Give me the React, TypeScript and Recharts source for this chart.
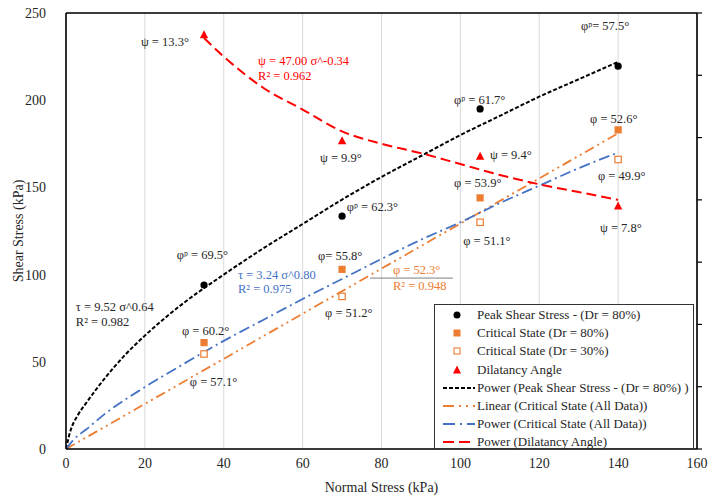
import React from "react";
import {
  ComposedChart, Scatter, Line, XAxis, YAxis, CartesianGrid, Legend, ReferenceDot, ReferenceLine,
} from "recharts";

// ---------- data ----------
const xTicks = [0, 20, 40, 60, 80, 100, 120, 140, 160];
const yTicks = [0, 50, 100, 150, 200, 250];
const psiTicks = [0, 2, 4, 6, 8, 10, 12, 14];

const peakPoints = [
  { x: 35, y: 94 },
  { x: 70, y: 133.5 },
  { x: 105, y: 195 },
  { x: 140, y: 219.5 },
];
const crit80Points = [
  { x: 35, y: 61 },
  { x: 70, y: 103 },
  { x: 105, y: 144 },
  { x: 140, y: 183 },
];
const crit30Points = [
  { x: 35, y: 54.5 },
  { x: 70, y: 87.5 },
  { x: 105, y: 130 },
  { x: 140, y: 166 },
];
const dilatancyPoints = [
  { x: 35, psi: 13.3 },
  { x: 70, psi: 9.9 },
  { x: 105, psi: 9.4 },
  { x: 140, psi: 7.8 },
];

// trend lines
const peakTrend = [
  { x: 0, y: 0 }, { x: 1, y: 9.5 }, { x: 3, y: 19.4 }, { x: 5, y: 26 }, { x: 10, y: 41 },
  { x: 15, y: 54 }, { x: 20, y: 65 }, { x: 30, y: 84 }, { x: 40, y: 100 }, { x: 50, y: 115 },
  { x: 60, y: 129 }, { x: 70, y: 143 }, { x: 80, y: 156 }, { x: 90, y: 168 }, { x: 100, y: 180 },
  { x: 110, y: 191 }, { x: 120, y: 202 }, { x: 130, y: 212 }, { x: 140, y: 222 },
];
const linearTrend = [
  { x: 0, y: 0 },
  { x: 140, y: 181 },
];
const critPowerTrend = [
  { x: 0, y: 0 }, { x: 2, y: 5.6 }, { x: 5, y: 11 }, { x: 10, y: 20.4 }, { x: 20, y: 35.5 },
  { x: 30, y: 49 }, { x: 40, y: 62 }, { x: 50, y: 74 }, { x: 60, y: 86 }, { x: 70, y: 97.5 },
  { x: 80, y: 109 }, { x: 90, y: 120 }, { x: 100, y: 130 }, { x: 110, y: 141 }, { x: 120, y: 151 },
  { x: 130, y: 161 }, { x: 140, y: 170 },
];
const dilatancyTrend = [
  { x: 35, psi: 13.2 }, { x: 40, psi: 12.6 }, { x: 50, psi: 11.6 }, { x: 60, psi: 10.9 },
  { x: 70, psi: 10.2 }, { x: 80, psi: 9.8 }, { x: 90, psi: 9.5 }, { x: 100, psi: 9.15 },
  { x: 110, psi: 8.8 }, { x: 120, psi: 8.5 }, { x: 130, psi: 8.25 }, { x: 140, psi: 8.0 },
];

// annotation texts (anchor in data units, left axis)
const blackNotes = [
  { x: 19.0, y: 233.4, t: "ψ = 13.3°" },
  { x: 130.6, y: 242.5, t: "φᵖ= 57.5°" },
  { x: 98.4, y: 200.1, t: "φᵖ = 61.7°" },
  { x: 132.9, y: 189.2, t: "φ = 52.6°" },
  { x: 64.4, y: 166.9, t: "ψ = 9.9°" },
  { x: 107.5, y: 168.6, t: "ψ = 9.4°" },
  { x: 98.4, y: 152.5, t: "φ = 53.9°" },
  { x: 134.9, y: 156.5, t: "φ = 49.9°" },
  { x: 71.2, y: 138.8, t: "φᵖ = 62.3°" },
  { x: 100.7, y: 119.3, t: "φ = 51.1°" },
  { x: 135.4, y: 126.7, t: "ψ = 7.8°" },
  { x: 28.1, y: 111.2, t: "φᵖ = 69.5°" },
  { x: 63.9, y: 110.7, t: "φ= 55.8°" },
  { x: 65.7, y: 78.0, t: "φ = 51.2°" },
  { x: 2.5, y: 81.4, t: "τ = 9.52 σ^0.64" },
  { x: 2.5, y: 72.8, t: "R² = 0.982" },
  { x: 29.4, y: 67.7, t: "φ = 60.2°" },
  { x: 31.4, y: 38.4, t: "φ = 57.1°" },
];
const redNotes = [
  { x: 48.7, y: 222.5, t: "ψ = 47.00 σ^-0.34" },
  { x: 48.7, y: 213.9, t: "R² = 0.962" },
];
const blueNotes = [
  { x: 43.6, y: 99.8, t: "τ = 3.24 σ^0.80" },
  { x: 43.6, y: 91.7, t: "R² = 0.975" },
];
const orangeNotes = [
  { x: 82.9, y: 102.6, t: "φ = 52.3°" },
  { x: 82.9, y: 93.5, t: "R² = 0.948" },
];

const legendItems = [
  "Peak Shear Stress - (Dr = 80%)",
  "Critical State (Dr = 80%)",
  "Critical State (Dr = 30%)",
  "Dilatancy Angle",
  "Power (Peak Shear Stress - (Dr = 80%) )",
  "Linear (Critical State (All Data))",
  "Power (Critical State (All Data))",
  "Power (Dilatancy Angle)",
];

// ---------- styles ----------
const FONT = "'Liberation Serif', 'Times New Roman', serif";
const ORANGE = "#ed7d31";
const BLUE = "#4472c4";
const RED = "#ff0000";
const TEXT = "#262626";

const noteShape = (text: string, color: string) => (p: any) => (
  <text x={p.cx} y={p.cy} fill={color} fontFamily={FONT} fontSize={12.5} dominantBaseline="central">
    {text}
  </text>
);

const Circle = (p: any) => <circle cx={p.cx} cy={p.cy} r={3.6} fill="#000" />;
const FilledSquare = (p: any) => <rect x={p.cx - 3.6} y={p.cy - 3.6} width={7.2} height={7.2} fill={ORANGE} />;
const HollowSquare = (p: any) => (
  <rect x={p.cx - 3.2} y={p.cy - 3.2} width={6.4} height={6.4} fill="#fff" stroke={ORANGE} strokeWidth={1.2} />
);
const Triangle = (p: any) => (
  <polygon points={`${p.cx},${p.cy - 4.5} ${p.cx + 4.2},${p.cy + 3.5} ${p.cx - 4.2},${p.cy + 3.5}`} fill={RED} />
);

const renderLegend = () => (
  <div
    style={{
      width: 260, height: 145, boxSizing: "border-box", border: "1px solid #333", background: "#fff",
      fontFamily: FONT, fontSize: 13, color: TEXT, paddingTop: 1,
    }}
  >
    {legendItems.map((label, i) => (
      <div key={label} style={{ display: "flex", alignItems: "center", height: 18.2, whiteSpace: "nowrap" }}>
        <svg width={41} height={18} style={{ flex: "none" }}>
          {i === 0 && <circle cx={22} cy={9} r={3.5} fill="#000" />}
          {i === 1 && <rect x={18.5} y={5.5} width={7} height={7} fill={ORANGE} />}
          {i === 2 && <rect x={19} y={6} width={6} height={6} fill="#fff" stroke={ORANGE} strokeWidth={1.1} />}
          {i === 3 && <polygon points="22,4.5 26,12.5 18,12.5" fill={RED} />}
          {i === 4 && <line x1={8} y1={9} x2={40} y2={9} stroke="#000" strokeWidth={2} strokeDasharray="4 2" />}
          {i === 5 && <line x1={8} y1={9} x2={40} y2={9} stroke={ORANGE} strokeWidth={2} strokeDasharray="11 5 2 5 2 5" />}
          {i === 6 && <line x1={8} y1={9} x2={40} y2={9} stroke={BLUE} strokeWidth={2} strokeDasharray="12 5 2 5" />}
          {i === 7 && <line x1={8} y1={9} x2={40} y2={9} stroke={RED} strokeWidth={2} strokeDasharray="11 5" />}
        </svg>
        <span style={{ marginLeft: 1 }}>{label}</span>
      </div>
    ))}
  </div>
);

export default function App() {
  return (
    <div style={{ position: "absolute", left: 0, top: 0, width: 712, height: 497, background: "#fff" }}>
      <ComposedChart width={712} height={497} margin={{ top: 13, right: 0, bottom: 0, left: 0 }}>
        <CartesianGrid stroke="#d9d9d9" strokeWidth={1} />
        <XAxis
          type="number"
          dataKey="x"
          domain={[0, 160]}
          ticks={xTicks}
          interval={0}
          allowDataOverflow
          height={48}
          tickLine={false}
          tickSize={0}
          tickMargin={9}
          axisLine={{ stroke: "#000", strokeWidth: 1.6 }}
          tick={{ fontFamily: FONT, fontSize: 14, fill: TEXT }}
          label={(props: any) => {
            const vb = props.viewBox;
            return (
              <text x={vb.x + vb.width / 2} y={vb.y + 38} textAnchor="middle" dominantBaseline="central"
                fontFamily={FONT} fontSize={14} fill={TEXT}>
                Normal Stress (kPa)
              </text>
            );
          }}
        />
        <YAxis
          yAxisId="left"
          type="number"
          domain={[0, 250]}
          ticks={yTicks}
          interval={0}
          width={66}
          tickLine={false}
          tickSize={0}
          tickMargin={20}
          axisLine={{ stroke: "#000", strokeWidth: 1.6 }}
          tick={{ fontFamily: FONT, fontSize: 14, fill: TEXT }}
          label={(props: any) => {
            const vb = props.viewBox;
            const cy = vb.y + vb.height / 2;
            return (
              <text x={18} y={cy} transform={`rotate(-90 18 ${cy})`} textAnchor="middle" dominantBaseline="central"
                fontFamily={FONT} fontSize={14} fill={TEXT}>
                Shear Stress (kPa)
              </text>
            );
          }}
        />
        <YAxis
          yAxisId="right"
          orientation="right"
          type="number"
          domain={[0, 14]}
          ticks={psiTicks}
          interval={0}
          width={15}
          tickSize={5}
          tickLine={{ stroke: "#000", strokeWidth: 1.2 }}
          axisLine={{ stroke: "#000", strokeWidth: 1.6 }}
          tickFormatter={() => ""}
        />
        <ReferenceLine yAxisId="left" y={250} stroke="#000" strokeWidth={1.6} />
        <ReferenceLine
          yAxisId="left"
          segment={[{ x: 77.1, y: 98.0 }, { x: 98.1, y: 98.0 }]}
          stroke="#7f7f7f"
          strokeWidth={1}
        />

        <Line yAxisId="left" data={peakTrend} dataKey="y" type="monotone" stroke="#000" strokeWidth={2}
          strokeDasharray="4 2" dot={false} activeDot={false} isAnimationActive={false} legendType="none" />
        <Line yAxisId="left" data={linearTrend} dataKey="y" type="linear" stroke={ORANGE} strokeWidth={1.8}
          strokeDasharray="10 4 2 4 2 4" dot={false} activeDot={false} isAnimationActive={false} legendType="none" />
        <Line yAxisId="left" data={critPowerTrend} dataKey="y" type="monotone" stroke={BLUE} strokeWidth={1.8}
          strokeDasharray="11 4 2 4" dot={false} activeDot={false} isAnimationActive={false} legendType="none" />
        <Line yAxisId="right" data={dilatancyTrend} dataKey="psi" type="monotone" stroke={RED} strokeWidth={2}
          strokeDasharray="10 5" dot={false} activeDot={false} isAnimationActive={false} legendType="none" />

        <Scatter yAxisId="left" data={peakPoints} dataKey="y" shape={Circle} isAnimationActive={false} />
        <Scatter yAxisId="left" data={crit80Points} dataKey="y" shape={FilledSquare} isAnimationActive={false} />
        <Scatter yAxisId="left" data={crit30Points} dataKey="y" shape={HollowSquare} isAnimationActive={false} />
        <Scatter yAxisId="right" data={dilatancyPoints} dataKey="psi" shape={Triangle} isAnimationActive={false} />

        {blackNotes.map((n) => (
          <ReferenceDot key={n.t} yAxisId="left" x={n.x} y={n.y} r={0} ifOverflow="visible" shape={noteShape(n.t, TEXT)} />
        ))}
        {redNotes.map((n) => (
          <ReferenceDot key={n.t} yAxisId="left" x={n.x} y={n.y} r={0} ifOverflow="visible" shape={noteShape(n.t, RED)} />
        ))}
        {blueNotes.map((n) => (
          <ReferenceDot key={n.t} yAxisId="left" x={n.x} y={n.y} r={0} ifOverflow="visible" shape={noteShape(n.t, BLUE)} />
        ))}
        {orangeNotes.map((n) => (
          <ReferenceDot key={n.t} yAxisId="left" x={n.x} y={n.y} r={0} ifOverflow="visible" shape={noteShape(n.t, ORANGE)} />
        ))}

        <Legend
          layout="horizontal"
          verticalAlign="middle"
          align="center"
          content={renderLegend}
          wrapperStyle={{ left: 434, top: 304, width: 261, height: 145 }}
        />
      </ComposedChart>
    </div>
  );
}
